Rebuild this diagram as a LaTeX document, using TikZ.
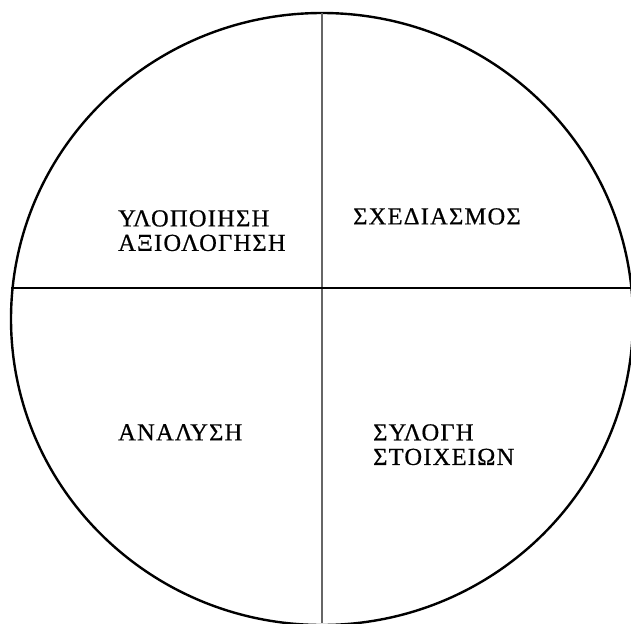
\documentclass[tikz,border=0pt]{standalone}
\usepackage{fontspec}
\setmainfont{Liberation Serif}[LetterSpace=5, FakeBold=0.6]
\begin{document}
\begin{tikzpicture}[x=1pt, y=-1pt,
    every node/.style={font=\fontsize{24.5}{24.5}\selectfont, inner sep=0pt, align=left, anchor=north west}]
    \useasboundingbox (0,0) rectangle (631,623);
    % Circle and axes
    \coordinate (c) at (322,319);
    \draw[line width=2.4pt] (c) ellipse [x radius=311, y radius=306];
    \draw[line width=1.6pt, black!60] (322,13) -- (322,623);
    \draw[line width=2.8pt] (11,288) -- (631,288);
    % Quadrant labels
    \node (build) at (118,210) {ΥΛΟΠΟΙΗΣΗ\\ΑΞΙΟΛΟΓΗΣΗ};
    \node (design) at (353,208) {ΣΧΕΔΙΑΣΜΟΣ};
    \node (analysis) at (118,424) {ΑΝΑΛΥΣΗ};
    \node (collect) at (373,424) {ΣΥΛΟΓΗ\\ΣΤΟΙΧΕΙΩΝ};
\end{tikzpicture}
\end{document}
